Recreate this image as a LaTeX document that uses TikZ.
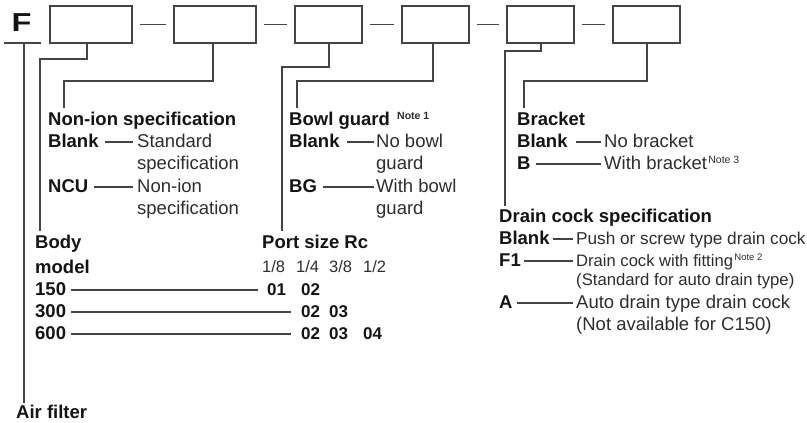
\documentclass[tikz,border=0pt]{standalone}
\usepackage{fontspec}
\setmainfont{Liberation Sans}
\usetikzlibrary{calc}
\definecolor{lc}{RGB}{68,68,68}
\definecolor{tc}{RGB}{45,45,45}
\definecolor{hc}{RGB}{20,20,20}
\begin{document}
\begin{tikzpicture}[x=1pt,y=-1pt,
  box/.style={draw=lc,line width=1.6pt,minimum width=#1,minimum height=37pt,inner sep=0pt},
  hd/.style={anchor=base west,inner sep=0pt,font=\fontsize{18.5}{22}\selectfont\bfseries,text=hc},
  num/.style={anchor=base west,inner sep=0pt,font=\fontsize{17}{20}\selectfont\bfseries,text=hc},
  tx/.style={anchor=base west,inner sep=0pt,font=\fontsize{18.5}{22}\selectfont,text=tc},
  frac/.style={anchor=base west,inner sep=0pt,font=\fontsize{16.5}{20}\selectfont,text=tc},
  nt/.style={anchor=base west,inner sep=0pt,font=\fontsize{10.5}{12}\selectfont,text=tc},
  ln/.style={draw=lc,line width=1.3pt},
  bln/.style={draw=lc,line width=1.5pt,shorten <=7pt,shorten >=7pt}
]
\useasboundingbox (0,0) rectangle (807,423);

% boxes
\node[box=82pt] (b1) at (91,24.5) {};
\node[box=82pt] (b2) at (215,24.5) {};
\node[box=67pt] (b3) at (328.5,24.5) {};
\node[box=67pt] (b4) at (435.5,24.5) {};
\node[box=67pt] (b5) at (540.5,24.5) {};
\node[box=67pt] (b6) at (646.5,24.5) {};
\draw[bln] (b1) -- (b2);
\draw[bln] (b2) -- (b3);
\draw[bln] (b3) -- (b4);
\draw[bln] (b4) -- (b5);
\draw[bln] (b5) -- (b6);

% F
\node[anchor=base west,inner sep=0pt,font=\fontsize{26}{26}\selectfont\bfseries,text=hc] (F) at (11.5,31) {\scalebox{1.25}[1]{F}};
\coordinate (u1) at (4,43);
\coordinate (u2) at (41,43);
\coordinate (fstem) at (24,43);
\draw[ln] (u1) -- (u2);
\node[hd] (air) at (16,418) {Air filter};
\draw[ln] (fstem) -- ([yshift=1pt]fstem |- air.north);

% Non-ion specification
\node[hd] (nonion) at (48,125) {Non-ion specification};
\node[hd] (ka1) at (48,147) {Blank};
\node[tx] (da1) at (137,147) {Standard};
\node[tx] (da1b) at (137,169) {specification};
\node[hd] (ka2) at (48,192) {NCU};
\node[tx] (da2) at (137,192) {Non-ion};
\node[tx] (da2b) at (137,214) {specification};
\draw[ln] ([xshift=6pt,yshift=5pt]ka1.base east) -- ([xshift=-4pt,yshift=5pt]da1.base west);
\draw[ln] ([xshift=6pt,yshift=5pt]ka2.base east) -- ([xshift=-4pt,yshift=5pt]da2.base west);

% Body model
\node[hd] (body) at (35,248) {Body};
\node[hd] (model) at (35,273) {model};
\node[hd] (m150) at (35,295) {150};
\node[hd] (m300) at (35,317) {300};
\node[hd] (m600) at (35,339) {600};

% Port size
\node[hd] (port) at (262,248) {Port size Rc};
\node[frac] (f1) at (262,272) {1/8};
\node[frac] (f2) at (296,272) {1/4};
\node[frac] (f3) at (329,272) {3/8};
\node[frac] (f4) at (363,272) {1/2};
\node[num] (r1a) at (267,295) {01};
\node[num] (r1b) at (301,295) {02};
\node[num] (r2a) at (301,317) {02};
\node[num] (r2b) at (329,317) {03};
\node[num] (r3a) at (301,339) {02};
\node[num] (r3b) at (329,339) {03};
\node[num] (r3c) at (363,339) {04};
\draw[ln] ([xshift=5pt,yshift=5pt]m150.base east) -- ([xshift=-9pt,yshift=5pt]r1a.base west);
\draw[ln] ([xshift=5pt,yshift=5pt]m300.base east) -- ([xshift=-10pt,yshift=5pt]r2a.base west);
\draw[ln] ([xshift=5pt,yshift=5pt]m600.base east) -- ([xshift=-10pt,yshift=5pt]r3a.base west);

% Bowl guard
\node[hd] (bowl) at (289,125) {Bowl guard};
\node[nt,font=\fontsize{10.5}{12}\selectfont\bfseries] (n1) at (397,119) {Note 1};
\node[hd] (kb1) at (289,147) {Blank};
\node[tx] (db1) at (376,147) {No bowl};
\node[tx] (db1b) at (376,169) {guard};
\node[hd] (kb2) at (289,192) {BG};
\node[tx] (db2) at (376,192) {With bowl};
\node[tx] (db2b) at (376,214) {guard};
\draw[ln] ([xshift=7pt,yshift=5pt]kb1.base east) -- ([xshift=-2pt,yshift=5pt]db1.base west);
\draw[ln] ([xshift=6pt,yshift=5pt]kb2.base east) -- ([xshift=-2pt,yshift=5pt]db2.base west);

% Bracket
\node[hd] (brk) at (517,125) {Bracket};
\node[hd] (kc1) at (517,147) {Blank};
\node[tx] (dc1) at (604,147) {No bracket};
\node[hd] (kc2) at (517,169) {B};
\node[tx] (dc2) at (604,169) {With bracket};
\node[nt,anchor=base west] (n3) at ([xshift=1pt,yshift=6pt]dc2.base east) {Note 3};
\draw[ln] ([xshift=8pt,yshift=5pt]kc1.base east) -- ([xshift=-3pt,yshift=5pt]dc1.base west);
\draw[ln] ([xshift=5pt,yshift=5pt]kc2.base east) -- ([xshift=-3pt,yshift=5pt]dc2.base west);

% Drain cock
\node[hd] (drain) at (499,222) {Drain cock specification};
\node[hd] (kd1) at (499,244) {Blank};
\node[tx,font=\fontsize{17.2}{20}\selectfont] (dd1) at (576,244) {Push or screw type drain cock};
\node[hd] (kd2) at (499,266) {F1};
\node[tx,font=\fontsize{16.6}{20}\selectfont] (dd2) at (576,266) {Drain cock with fitting};
\node[nt,font=\fontsize{9.5}{11}\selectfont] (n2) at ([xshift=1pt,yshift=6pt]dd2.base east) {Note 2};
\node[tx,font=\fontsize{16.7}{20}\selectfont] (dd2b) at (576,285) {(Standard for auto drain type)};
\node[hd] (kd3) at (499,308) {A};
\node[tx] (dd3) at (576,308) {Auto drain type drain cock};
\node[tx] (dd3b) at (576,330) {(Not available for C150)};
\draw[ln] ([xshift=3pt,yshift=5pt]kd1.base east) -- ([xshift=-3pt,yshift=5pt]dd1.base west);
\draw[ln] ([xshift=3pt,yshift=5pt]kd2.base east) -- ([xshift=-3pt,yshift=5pt]dd2.base west);
\draw[ln] ([xshift=4pt,yshift=5pt]kd3.base east) -- ([xshift=-3pt,yshift=5pt]dd3.base west);

% leader lines from boxes
\coordinate (k1) at (40,59);
\coordinate (k2) at (64,81);
\coordinate (k3) at (282,67);
\coordinate (k4) at (297,81);
\coordinate (k5) at (505,51);
\coordinate (k6) at (524,81);
\draw[ln] ([xshift=-4pt]b1.south) |- (k1) -- ([yshift=3pt]k1 |- body.north);
\draw[ln] ([xshift=-2pt]b2.south) |- (k2) -- ([yshift=3pt]k2 |- nonion.north);
\draw[ln] ([xshift=0.5pt]b3.south) |- (k3) -- ([yshift=3pt]k3 |- port.north);
\draw[ln] ([xshift=-2.5pt]b4.south) |- (k4) -- ([yshift=3pt]k4 |- bowl.north);
\draw[ln] ([xshift=0.5pt]b5.south) |- (k5) -- ([yshift=2pt]k5 |- drain.north);
\draw[ln] ([xshift=0.5pt]b6.south) |- (k6) -- ([yshift=3pt]k6 |- brk.north);
\end{tikzpicture}
\end{document}
